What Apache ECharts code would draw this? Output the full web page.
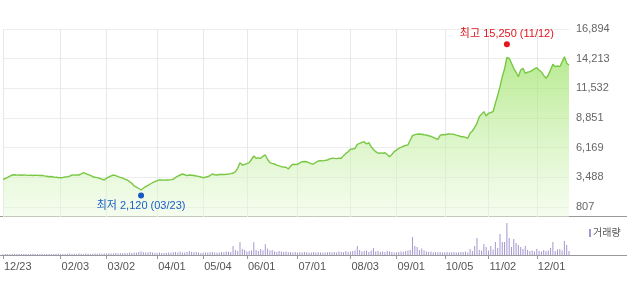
<!DOCTYPE html>
<html><head><meta charset="utf-8">
<script src="https://cdn.jsdelivr.net/npm/echarts@6/dist/echarts.min.js"></script>
<style>html,body{margin:0;padding:0;background:#fff}#c{width:627px;height:290px}</style>
</head><body><div id="c"></div>
<script>
// Trading-day calendar (Korean market, 2019-12-23 .. 2020-12-21)
const startDate = '2019-12-23';
const tradingDayCount = 247;
const holidays = ['2019-12-25','2019-12-31','2020-01-01','2020-01-24','2020-01-27','2020-04-15','2020-04-30','2020-05-01','2020-05-05','2020-08-17','2020-09-30','2020-10-01','2020-10-02','2020-10-09'];
// Tick labels shown on the x axis
const tickLabels = ['12/23','02/03','03/02','04/01','05/04','06/01','07/01','08/03','09/01','10/05','11/02','12/01'];
// Y tick labels
const priceTicks = [807, 3488.17, 6169.33, 8850.5, 11531.67, 14212.83, 16894];
const priceMin = -96, priceMax = 16894;

// Closing prices
const prices = [
3311,3380,3480,3600,3700,3720,3690,3700,3680,3700,
3690,3670,3680,3660,3690,3670,3650,3655,3620,3590,
3546,3560,3520,3490,3470,3456,3480,3520,3546,3600,
3700,3690,3710,3700,3800,3908,3820,3740,3660,3546,
3500,3460,3402,3330,3248,3420,3519,3620,3700,3640,
3560,3492,3420,3330,3248,3100,2950,2706,2600,2480,
2345,2500,2643,2760,2887,3000,3100,3185,3248,3250,
3240,3260,3250,3280,3311,3480,3600,3700,3790,3720,
3637,3700,3680,3650,3610,3580,3520,3456,3500,3564,
3650,3790,3720,3700,3740,3760,3750,3763,3790,3820,
3854,4000,4305,4812,4604,4650,4720,4812,5100,5417,
5209,5250,5209,5400,5508,5100,4812,4750,4694,4600,
4520,4450,4420,4396,4242,4500,4667,4650,4667,4800,
4902,4920,4902,4800,4720,4694,4850,4965,4990,4980,
5020,5056,5150,5209,5200,5180,5220,5209,5450,5650,
5806,6023,6050,6113,6474,6550,6650,6709,6502,6619,
6257,6000,5806,5661,5700,5661,5715,5550,5354,5550,
5806,5950,6100,6203,6300,6380,6411,6863,7252,7350,
7380,7405,7380,7340,7315,7250,7200,7107,7000,6926,
7288,7350,7340,7378,7400,7390,7378,7300,7250,7161,
7161,7100,7017,7469,7676,8000,8372,8969,9200,9420,
9032,9276,9350,9420,10180,10900,11680,12583,13300,14337,
14246,13800,13342,12981,12583,13189,13342,12891,13000,13035,
13150,13300,13397,13189,13000,12700,12439,12737,13200,13704,
13487,13550,13487,13900,14391,13800,13641];

// Volume (relative units)
const volumes = [
80,100,90,110,100,120,90,100,110,90,
100,110,90,120,100,90,110,130,100,90,
110,100,90,120,150,110,100,90,120,140,
110,130,100,150,120,110,140,120,110,130,
150,120,140,130,160,150,180,140,160,200,
150,180,170,210,180,240,200,260,220,300,
350,280,260,240,300,250,220,200,240,210,
200,230,250,220,280,300,260,350,240,250,
300,400,330,280,300,250,200,240,260,250,
280,300,250,220,260,300,280,350,330,300,
900,500,400,1270,600,500,350,400,450,1270,
500,400,600,450,1070,650,450,500,350,300,
400,350,300,350,280,300,250,300,260,280,
250,300,280,230,250,300,260,280,250,230,
250,280,300,260,300,250,350,300,280,400,
300,350,400,450,900,500,350,400,450,300,
450,700,350,400,300,350,280,400,350,300,
250,280,300,350,300,400,450,500,1800,900,
800,500,650,450,350,300,350,250,300,280,
300,250,280,300,250,280,300,250,280,300,
300,350,250,600,400,900,1700,500,450,1100,
800,450,900,550,1300,700,2100,1300,1300,3200,
1700,800,1600,1200,1000,800,600,900,500,400,
450,350,600,400,350,500,400,450,700,1300,
400,550,600,450,1400,1000,400];

// High / low markers
const highPoint = {date:'2020-11-12', value:15250, text:'최고 15,250 (11/12)'};
const lowPoint = {date:'2020-03-23', value:2120, text:'최저 2,120 (03/23)'};

function pad(n){return (n<10?'0':'')+n;}
const dates = [];
(function(){
  const d = new Date(startDate+'T00:00:00Z');
  while (dates.length < tradingDayCount) {
    const s = d.getUTCFullYear()+'-'+pad(d.getUTCMonth()+1)+'-'+pad(d.getUTCDate());
    const w = d.getUTCDay();
    if (w!==0 && w!==6 && holidays.indexOf(s)<0) dates.push(s);
    d.setUTCDate(d.getUTCDate()+1);
  }
})();
const md = s => s.slice(5,7)+'/'+s.slice(8,10);
const shownIdx = {};
tickLabels.forEach(t => { const i = dates.findIndex(d => md(d)===t); if (i>=0) shownIdx[i]=true; });
const isShown = i => !!shownIdx[i];

const font = "'Liberation Sans','Noto Sans CJK KR',sans-serif";
const chart = echarts.init(document.getElementById('c'));
chart.setOption({
  animation:false,
  backgroundColor:'#fff',
  textStyle:{fontFamily:font},
  legend:{data:[{name:'거래량', icon:'rect'}], left:584, top:223, itemWidth:2, itemHeight:8, itemGap:0,
    textStyle:{fontSize:10, color:'#555', fontFamily:font, padding:[0,0,0,-3]}},
  grid:[
    {left:3, right:58, top:29, height:188},
    {left:3, right:58, top:222, height:33}
  ],
  xAxis:[
    {type:'category', gridIndex:0, data:dates, boundaryGap:false,
     axisLine:{show:false}, axisTick:{show:false}, axisLabel:{show:false},
     splitLine:{show:true, interval:(i)=>isShown(i), lineStyle:{color:'#e8e8e8', width:1}}},
    {type:'category', gridIndex:1, data:dates, boundaryGap:false,
     axisLine:{show:true, lineStyle:{color:'#999'}},
     axisTick:{show:true, interval:(i)=>isShown(i), length:4, lineStyle:{color:'#999'}},
     axisLabel:{show:true, interval:(i)=>isShown(i), formatter:(v)=>md(v), align:'left', margin:6,
       color:'#555', fontSize:11, fontFamily:font, padding:[0,0,0,1]},
     splitLine:{show:false}}
  ],
  yAxis:[
    {type:'value', gridIndex:0, position:'right', min:priceMin, max:priceMax,
     axisLine:{show:false},
     axisTick:{show:false, customValues:priceTicks},
     axisLabel:{customValues:priceTicks, align:'left', margin:7, color:'#666', fontSize:11, fontFamily:font,
       formatter:(v)=>Math.round(v).toLocaleString('en-US')},
     splitLine:{show:true, lineStyle:{color:'#ececec', width:1}}},
    {type:'value', gridIndex:1, min:0, max:3300, show:false, splitLine:{show:false}}
  ],
  graphic:[
    {type:'line', shape:{x1:0, y1:216.5, x2:627, y2:216.5}, style:{stroke:'#9a9a9a', lineWidth:1}, silent:true},
    {type:'line', shape:{x1:0, y1:255.5, x2:627, y2:255.5}, style:{stroke:'#9a9a9a', lineWidth:1}, silent:true}
  ],
  series:[
    {type:'line', name:'가격', xAxisIndex:0, yAxisIndex:0, data:prices, showSymbol:false, symbol:'none', z:1,
     lineStyle:{color:'#78c844', width:1.4},
     areaStyle:{origin:'start', color:new echarts.graphic.LinearGradient(0,0,0,1,[
       {offset:0, color:'rgba(155,226,100,1)'},
       {offset:1, color:'rgba(234,250,222,0.7)'}])}},
    {type:'bar', name:'거래량', xAxisIndex:1, yAxisIndex:1, data:volumes, barWidth:1,
     itemStyle:{color:'#a596d0'}},
    {type:'scatter', name:'high', xAxisIndex:0, yAxisIndex:0, symbolSize:6, symbolOffset:[0,-3], z:10,
     data:[[dates.indexOf(highPoint.date), highPoint.value]], itemStyle:{color:'#e8141e', opacity:1},
     label:{show:true, position:'top', distance:2, formatter:highPoint.text, color:'#e0161e', fontSize:11, fontFamily:font}},
    {type:'scatter', name:'low', xAxisIndex:0, yAxisIndex:0, symbolSize:6, symbolOffset:[0,3], z:10,
     data:[[dates.indexOf(lowPoint.date), lowPoint.value]], itemStyle:{color:'#1858c4', opacity:1},
     label:{show:true, position:'bottom', distance:2, formatter:lowPoint.text, color:'#1a5fc8', fontSize:11, fontFamily:font}}
  ]
});
</script></body></html>
